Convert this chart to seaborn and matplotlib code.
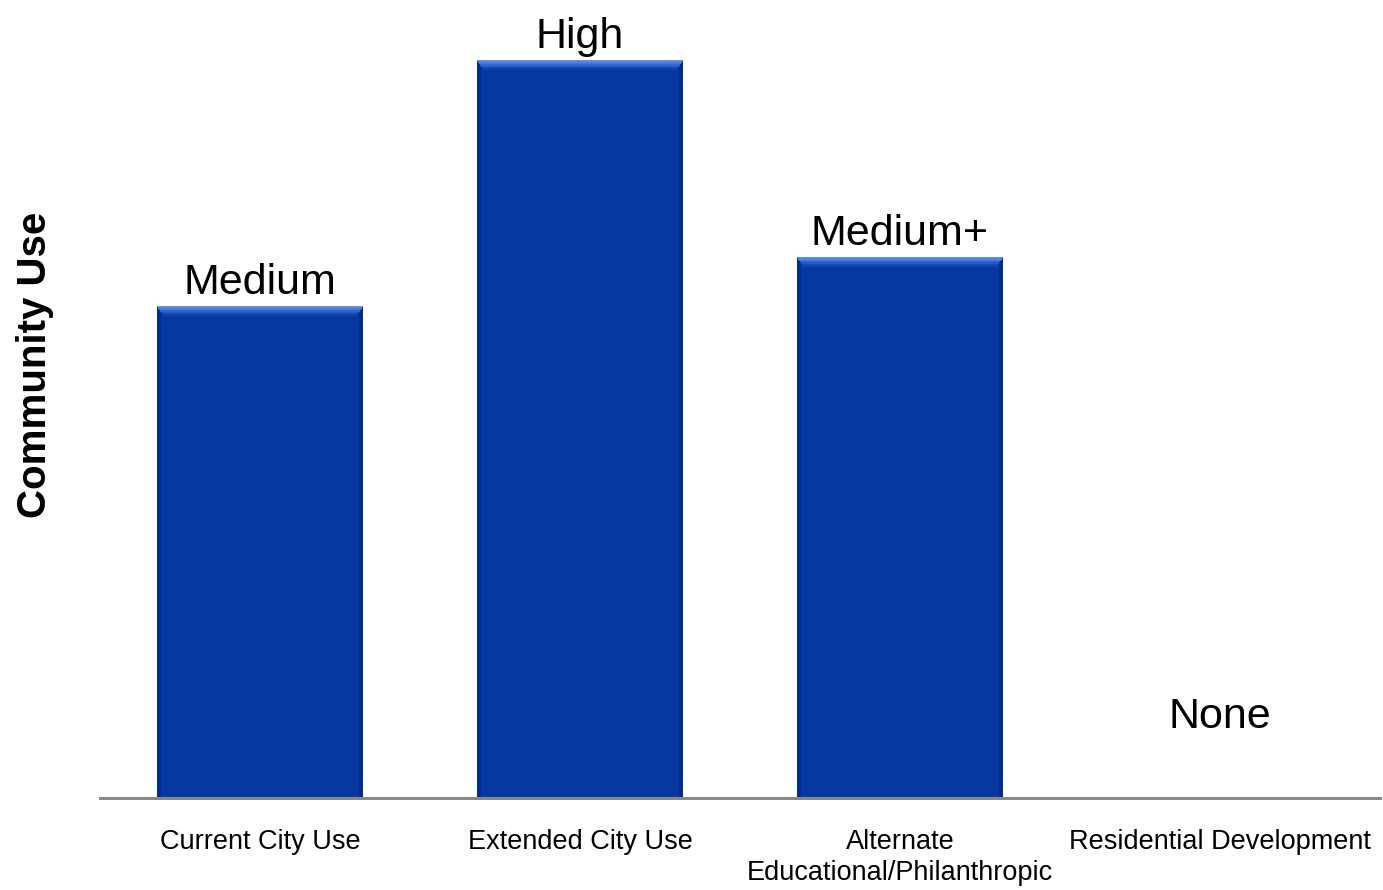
import seaborn as sns
import matplotlib.pyplot as plt
from matplotlib.patches import Rectangle

# chart data
categories = ['Current City Use', 'Extended City Use',
              'Alternate\nEducational/Philanthropic', 'Residential Development']
values = [2.0, 3.0, 2.2, 0.0]
level_labels = ['Medium', 'High', 'Medium+', 'None']

BAR_BLUE = '#0638a0'

sns.set_style('white')
plt.rcParams['font.family'] = ['Liberation Sans', 'DejaVu Sans']

fig = plt.figure(figsize=(13.83, 8.90), dpi=100)
ax = fig.add_axes([100 / 1383, 92 / 890, 1280 / 1383, 798 / 890])

sns.barplot(x=categories, y=values, color=BAR_BLUE, saturation=1,
            width=0.645, ax=ax, zorder=2)

ax.set_xlim(-0.5, 3.5)
ax.set_ylim(0, 3.244)

# pixel -> data scale for the bevel overlays
ypx = 3.244 / 798
xpx = 4.0 / 1280

bevel = ['#6592ea', '#5282e2', '#4274da', '#3366cf', '#2658c3', '#1a4cb6', '#1042aa']
for p in ax.patches[:]:
    h = p.get_height()
    if h <= 0:
        continue
    x0, w = p.get_x(), p.get_width()
    # darker sides
    ax.add_patch(Rectangle((x0, 0), 4 * xpx, h, color='#032c8c', lw=0, zorder=3))
    ax.add_patch(Rectangle((x0 + w - 4 * xpx, 0), 4 * xpx, h, color='#032c8c', lw=0, zorder=3))
    # lighter top bevel
    for i, c in enumerate(bevel):
        ax.add_patch(Rectangle((x0 + i * xpx, h - (i + 1) * 1.4 * ypx),
                               w - 2 * i * xpx, 1.4 * ypx, color=c, lw=0, zorder=4))

# level labels
for i, (v, lab) in enumerate(zip(values, level_labels)):
    off = 70 if v == 0 else 12
    ax.text(i, v + off * ypx, lab, ha='center', va='baseline',
            fontsize=31, color='black')

sns.despine(ax=ax, left=True, top=True, right=True)
ax.spines['bottom'].set_color('#888888')
ax.spines['bottom'].set_linewidth(2.2)
ax.spines['bottom'].set_zorder(5)
ax.set_yticks([])
ax.tick_params(axis='x', length=0, pad=22, labelsize=19.5, labelcolor='black')
for t in ax.get_xticklabels():
    t.set_linespacing(1.25)

fig.text(35 / 1383, (890 - 365) / 890, 'Community Use', rotation=90,
         ha='center', va='center', fontsize=29, fontweight='bold', color='black')

fig.savefig('out.png', dpi=100)
